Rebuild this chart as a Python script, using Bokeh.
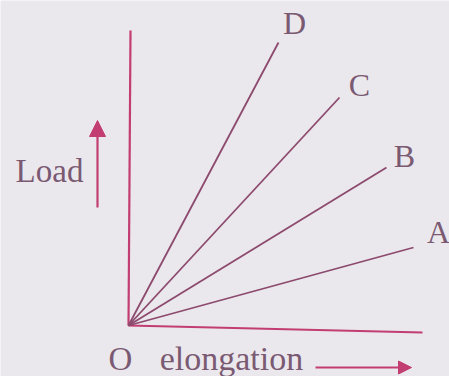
from bokeh.plotting import figure
from bokeh.models import Range1d, ColumnDataSource, Arrow, NormalHead
from bokeh.embed import file_html
from bokeh.resources import INLINE
from bokeh.core.properties import value

# Data (pixel-like units: origin O at (0,0))
series = ["A", "B", "C", "D"]
end_elong = [285, 258, 211, 150]
end_load = [78, 158, 228, 283]
label_x = [310, 276, 231, 166]
label_y = [94, 170, 241, 303]

axis_x_end = 294
axis_y_end = 295

p = figure(width=449, height=376, output_backend="svg", toolbar_location=None,
           x_range=Range1d(-128, 321), y_range=Range1d(-51, 325),
           min_border=0)
p.axis.visible = False
p.grid.visible = False
p.outline_line_color = None
p.background_fill_color = "#ebe8ed"
p.border_fill_color = "#ebe8ed"

line_col = "#8c4a6e"
axis_col = "#c23d72"
text_col = "#7a5a72"
font = value("Liberation Serif")

# Axes
p.segment(x0=[0, 0], y0=[0, 0], x1=[axis_x_end, 2], y1=[-7, axis_y_end],
          line_color=axis_col, line_width=2.2)

# Lines A-D
src = ColumnDataSource(dict(x0=[0]*4, y0=[0]*4, x1=end_elong, y1=end_load,
                            lx=label_x, ly=label_y, name=series))
p.segment(x0="x0", y0="y0", x1="x1", y1="y1", source=src,
          line_color=line_col, line_width=1.8)
p.text(x="lx", y="ly", text="name", source=src, text_font=font,
       text_font_size="32px", text_color=text_col, text_align="center",
       text_baseline="middle")

# Load label & arrow
p.text(x=[-79], y=[155], text=["Load"], text_font=font,
       text_font_size="33px", text_color=text_col, text_align="center",
       text_baseline="middle")
p.add_layout(Arrow(end=NormalHead(size=16, fill_color=axis_col, line_color=axis_col),
                   x_start=-31, y_start=118, x_end=-31, y_end=205,
                   line_color=axis_col, line_width=2.2))

# O and elongation
p.text(x=[-8], y=[-33], text=["O"], text_font=font,
       text_font_size="33px", text_color=text_col, text_align="center",
       text_baseline="middle")
p.text(x=[103], y=[-33], text=["elongation"], text_font=font,
       text_font_size="34px", text_color=text_col, text_align="center",
       text_baseline="middle")
p.add_layout(Arrow(end=NormalHead(size=13, fill_color=axis_col, line_color=axis_col),
                   x_start=187, y_start=-42, x_end=283, y_end=-42,
                   line_color=axis_col, line_width=2.2))

open("out.html", "w").write(file_html(p, INLINE))
